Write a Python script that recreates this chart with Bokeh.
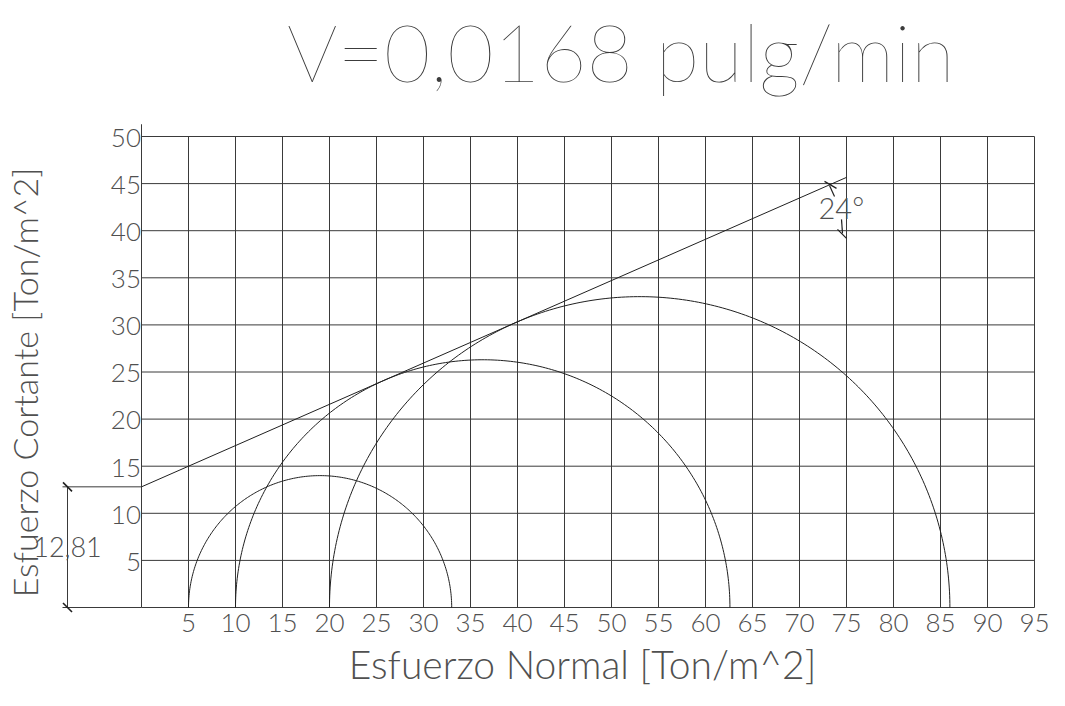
import numpy as np
from bokeh.plotting import figure
from bokeh.models import Range1d
from bokeh.core.properties import value
from bokeh.embed import file_html
from bokeh.resources import INLINE

# ---------------- data ----------------
title_text = "V=0,0168 pulg/min"
x_label = "Esfuerzo Normal [Ton/m^2]"
y_label = "Esfuerzo Cortante [Ton/m^2]"
x_ticks = [5, 10, 15, 20, 25, 30, 35, 40, 45, 50, 55, 60, 65, 70, 75, 80, 85, 90, 95]
y_ticks = [5, 10, 15, 20, 25, 30, 35, 40, 45, 50]
x_tick_labels = [str(v) for v in x_ticks]
y_tick_labels = [str(v) for v in y_ticks]
sigma3 = [5.0, 10.0, 20.0]        # minor principal stress of each test
sigma1 = [33.0, 62.6, 86.0]       # major principal stress of each test
cohesion = 12.81
cohesion_label = "12,81"
envelope_x = [0.0, 75.0]
envelope_y = [12.81, 45.66]
angle_label = "24°"

# ---------------- layout ----------------
W, H = 1049, 690
SX, SY = 9.40, 9.42              # pixels per data unit
X0, Y0 = 141.0, 607.0            # screen pixel of data origin (y from top)

def dx(px):
    return (px - X0) / SX

def dy(py):
    return (Y0 - py) / SY

BL = 0.37  # em offset between anchor and rendered baseline

def anchor(base_py, size):
    return dy(base_py - BL * size)

TXT = "#505050"
LINE = "#3a3a3a"
F_TITLE = value("Lato Hairline, Lato Light, DejaVu Sans")
F_TEXT = value("Lato Light, DejaVu Sans")

p = figure(width=W, height=H, x_range=Range1d(dx(0), dx(W)), y_range=Range1d(dy(H), dy(0)),
           x_axis_type=None, y_axis_type=None, toolbar_location=None,
           output_backend="svg", min_border=0)
p.outline_line_color = None
p.background_fill_color = "white"
p.border_fill_color = "white"

x_max = x_ticks[-1]
y_max = y_ticks[-1]

# grid
p.segment(x0=x_ticks, y0=[0] * len(x_ticks), x1=x_ticks, y1=[y_max] * len(x_ticks),
          line_color=LINE, line_width=1)
p.segment(x0=[0] * len(y_ticks), y0=y_ticks, x1=[x_max] * len(y_ticks), y1=y_ticks,
          line_color=LINE, line_width=1)
# axis lines
p.segment(x0=[0, 0], y0=[0, 0], x1=[x_max, 0], y1=[0, y_max + 1.3], line_color=LINE, line_width=1)

# Mohr circles (semicircles)
centers = [(a + b) / 2 for a, b in zip(sigma3, sigma1)]
radii = [(b - a) / 2 for a, b in zip(sigma3, sigma1)]
th = np.linspace(0, np.pi, 240)
p.multi_line(xs=[list(c + r * np.cos(th)) for c, r in zip(centers, radii)],
             ys=[list(r * np.sin(th)) for r in radii],
             line_color="#202020", line_width=1)

# failure envelope
p.line(envelope_x, envelope_y, line_color="#202020", line_width=1)

# tick labels
TS = 26
p.text(x=x_ticks, y=[anchor(Y0 + 25, TS)] * len(x_ticks), text=x_tick_labels, text_font=F_TEXT,
       text_font_size=f"{TS}px", text_color=TXT, text_align="center", text_baseline="alphabetic")
p.text(x=[-0.05] * len(y_ticks), y=[v + anchor(Y0 + 11, TS) for v in y_ticks], text=y_tick_labels,
       text_font=F_TEXT, text_font_size=f"{TS}px", text_color=TXT, text_align="right",
       text_baseline="alphabetic")

# axis titles
XLS = 39
p.text(x=[dx(582)], y=[anchor(678, XLS)], text=[x_label], text_font=F_TEXT,
       text_font_size=f"{XLS}px", text_color=TXT, text_align="center", text_baseline="alphabetic")
YLS = 34
p.text(x=[dx(37 - BL * YLS)], y=[dy(382)], text=[y_label], text_font=F_TEXT,
       text_font_size=f"{YLS}px", text_color=TXT, text_align="center", text_baseline="alphabetic",
       angle=np.pi / 2)

# title
TT = 80
p.text(x=[dx(620)], y=[anchor(80, TT)], text=[title_text], text_font=F_TITLE,
       text_font_size=f"{TT}px", text_color="#3c3c3c", text_align="center",
       text_baseline="alphabetic")

# cohesion dimension (left)
dim_x = dx(67)
ext_left = dx(62)
p.segment(x0=[ext_left, ext_left], y0=[0, cohesion], x1=[0, 0], y1=[0, cohesion],
          line_color=LINE, line_width=1)
p.segment(x0=[dim_x], y0=[0], x1=[dim_x], y1=[cohesion], line_color=LINE, line_width=1)
t = 4.5
p.segment(x0=[dim_x - t / SX] * 2, y0=[0 + t / SY, cohesion + t / SY],
          x1=[dim_x + t / SX] * 2, y1=[0 - t / SY, cohesion - t / SY],
          line_color="#202020", line_width=1.6)
p.text(x=[dim_x], y=[cohesion / 2 - (10 - BL * 27) / SY], text=[cohesion_label], text_font=F_TEXT,
       text_font_size="27px", text_color=TXT, text_align="center", text_baseline="alphabetic")

# friction angle label with leaders (placed relative to the envelope end)
ex = X0 + envelope_x[1] * SX
ey = Y0 - envelope_y[1] * SY
lx, lby = ex - 28, ey + 41
p.text(x=[dx(lx)], y=[anchor(lby, 29)], text=[angle_label], text_font=F_TEXT, text_font_size="29px",
       text_color=TXT, text_align="left", text_baseline="alphabetic")
offs = [((16, -22), (11, -33)), ((6, -37), (18, -30)), ((23, 1), (24, 15)), ((19, 11), (28, 20))]
p.segment(x0=[dx(lx + a[0]) for a, b in offs], y0=[dy(lby + a[1]) for a, b in offs],
          x1=[dx(lx + b[0]) for a, b in offs], y1=[dy(lby + b[1]) for a, b in offs],
          line_color="#202020", line_width=1.2)

open("out.html", "w").write(file_html(p, INLINE))
